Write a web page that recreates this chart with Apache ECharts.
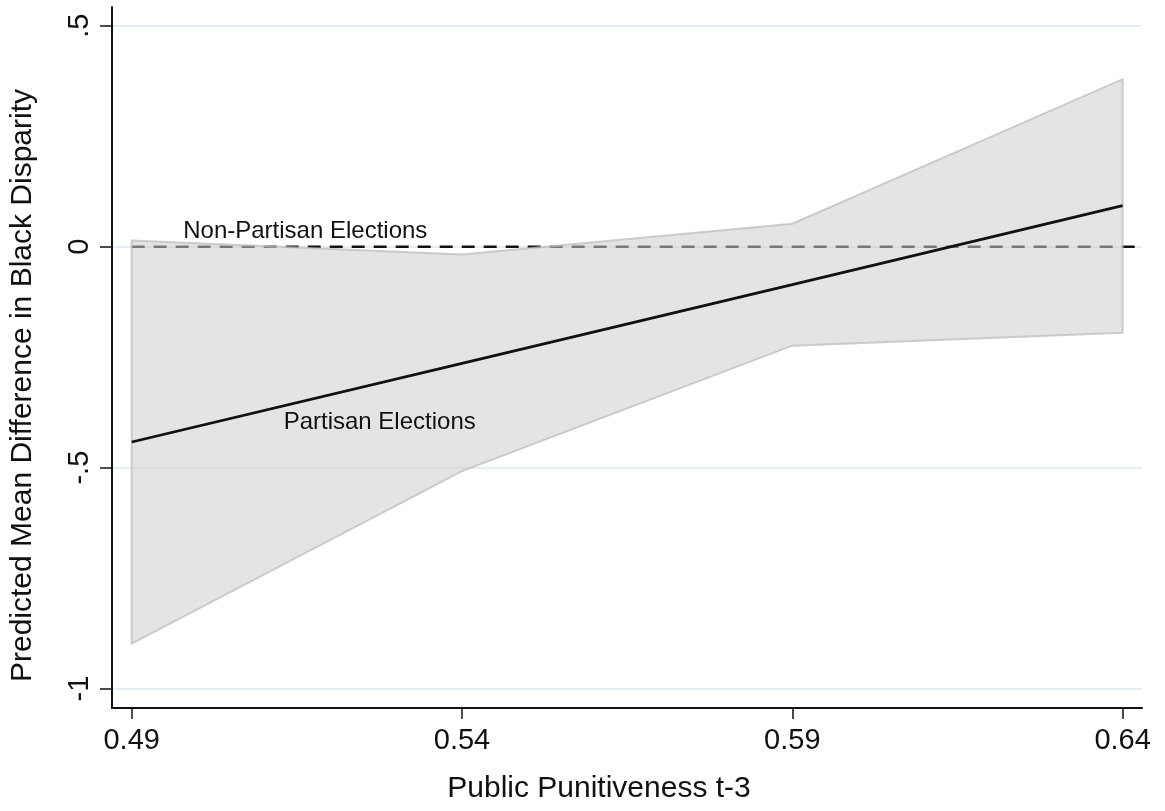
<!DOCTYPE html>
<html>
<head>
<meta charset="utf-8">
<script src="https://cdn.jsdelivr.net/npm/echarts@6/dist/echarts.min.js"></script>
<style>
  html, body { margin: 0; padding: 0; background: #fff; }
  #chart { width: 1165px; height: 811px; }
</style>
</head>
<body>
<div id="chart"></div>
<script>
// ---- data ----
const xValues = [0.49, 0.54, 0.59, 0.64];
const fitValues = [-0.442, -0.264, -0.086, 0.093];
const upperCI = [0.014, -0.018, 0.052, 0.379];
const lowerCI = [-0.898, -0.508, -0.224, -0.195];
const referenceY = 0;
const xTicks = [0.49, 0.54, 0.59, 0.64];
const yTicks = [-1, -0.5, 0, 0.5];
const yTickLabels = { '-1': '-1', '-0.5': '-.5', '0': '0', '0.5': '.5' };
const xAxisRange = [0.48702, 0.64293];
const yAxisRange = [-1.0439, 0.5423];
const annotationTexts = ['Non-Partisan Elections', 'Partisan Elections'];
const annotationX = [0.4978, 0.5130];
const annotationY = [0.035, -0.397];

const FONT = '"Liberation Sans", Arial, Helvetica, sans-serif';
const chart = echarts.init(document.getElementById('chart'), null, { renderer: 'canvas' });

const bandData = xValues.map((x, i) => [x, lowerCI[i], upperCI[i]]);

const option = {
  animation: false,
  backgroundColor: '#ffffff',
  grid: { left: 111, right: 23, top: 7, bottom: 103, containLabel: false },
  xAxis: {
    type: 'value',
    min: xAxisRange[0],
    max: xAxisRange[1],
    name: 'Public Punitiveness t-3',
    nameLocation: 'middle',
    nameGap: 66,
    nameTextStyle: { fontFamily: FONT, fontSize: 30, color: '#111', padding: [0, 56, 0, 0] },
    axisLine: { show: true, onZero: false, lineStyle: { color: '#111', width: 2 } },
    axisTick: { show: true, length: 11, customValues: xTicks, lineStyle: { color: '#111', width: 1.5 } },
    axisLabel: {
      customValues: xTicks, margin: 18,
      fontFamily: FONT, fontSize: 29, color: '#111',
      formatter: v => v.toFixed(2)
    },
    splitLine: { show: false }
  },
  yAxis: {
    type: 'value',
    min: yAxisRange[0],
    max: yAxisRange[1],
    name: 'Predicted Mean Difference in Black Disparity',
    nameLocation: 'middle',
    nameGap: 74,
    nameTextStyle: { fontFamily: FONT, fontSize: 30, color: '#111', padding: [0, 56, 0, 0] },
    axisLine: { show: true, onZero: false, lineStyle: { color: '#111', width: 2 } },
    axisTick: { show: true, length: 12, customValues: yTicks, lineStyle: { color: '#111', width: 1.5 } },
    axisLabel: {
      customValues: yTicks, rotate: 90, margin: 18,
      fontFamily: FONT, fontSize: 29, color: '#111',
      formatter: v => yTickLabels[String(Math.round(v * 10) / 10)]
    },
    splitLine: { show: true, lineStyle: { color: '#e5eef2', width: 2 } }
  },
  series: [
    {
      name: 'Non-Partisan',
      type: 'line',
      z: 1,
      symbol: 'none',
      silent: true,
      data: [[xValues[0], referenceY], [xAxisRange[1], referenceY]],
      lineStyle: { color: '#111', width: 2.5, type: [13, 9] }
    },
    {
      name: 'CI',
      type: 'custom',
      z: 2,
      silent: true,
      data: bandData,
      encode: { x: 0, y: [1, 2] },
      renderItem: function (params, api) {
        if (params.dataIndex !== 0) return null;
        const pts = [];
        for (let i = 0; i < xValues.length; i++) pts.push(api.coord([xValues[i], upperCI[i]]));
        for (let i = xValues.length - 1; i >= 0; i--) pts.push(api.coord([xValues[i], lowerCI[i]]));
        return {
          type: 'polygon',
          shape: { points: pts },
          style: { fill: 'rgba(206,206,206,0.55)', stroke: 'rgba(190,190,190,0.75)', lineWidth: 2 }
        };
      }
    },
    {
      name: 'Partisan',
      type: 'line',
      z: 3,
      symbol: 'none',
      silent: true,
      data: xValues.map((x, i) => [x, fitValues[i]]),
      lineStyle: { color: '#111', width: 2.8 }
    },
    {
      name: 'labels',
      type: 'custom',
      z: 5,
      silent: true,
      data: annotationTexts.map((t, i) => [annotationX[i], annotationY[i]]),
      encode: { x: 0, y: 1 },
      renderItem: function (params, api) {
        const p = api.coord([api.value(0), api.value(1)]);
        return {
          type: 'text',
          x: p[0], y: p[1],
          style: {
            text: annotationTexts[params.dataIndex],
            fill: '#111',
            font: '24px ' + FONT,
            align: 'left',
            verticalAlign: 'middle'
          }
        };
      }
    }
  ]
};
chart.setOption(option);
</script>
</body>
</html>
